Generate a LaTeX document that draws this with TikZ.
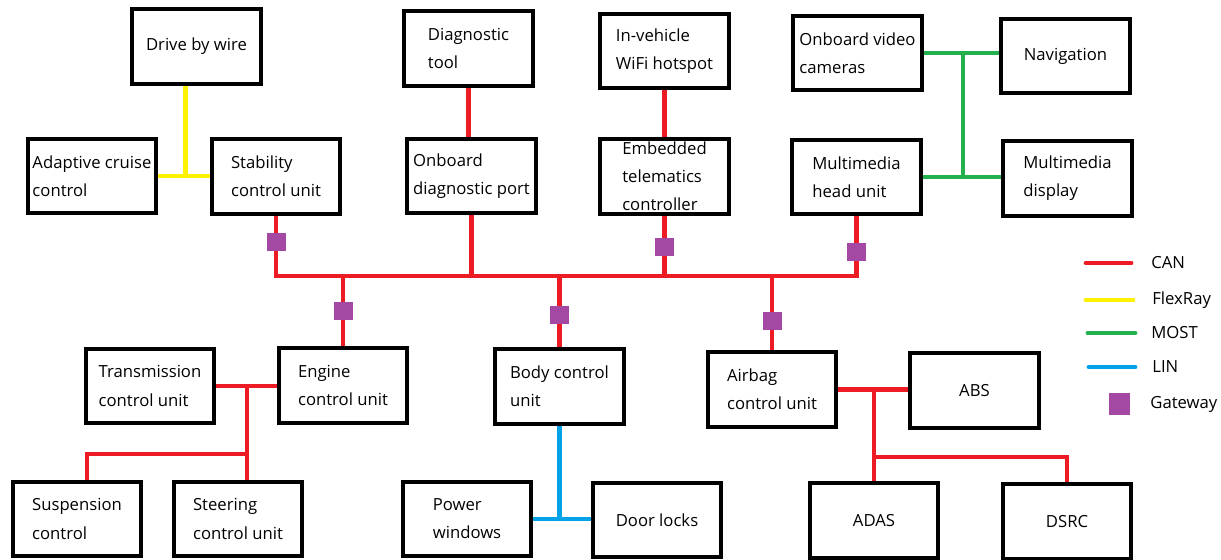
\documentclass[tikz,border=0pt]{standalone}
\usepackage{fontspec}
\setmainfont{Open Sans}
\usepackage{tikz}
\usetikzlibrary{calc}
\definecolor{canred}{RGB}{237,28,36}
\definecolor{flexyellow}{RGB}{255,242,0}
\definecolor{mostgreen}{RGB}{34,177,76}
\definecolor{linblue}{RGB}{0,162,232}
\definecolor{gwpurple}{RGB}{163,73,164}

\begin{document}
\begin{tikzpicture}[x=0.02cm, y=-0.02cm,
    unit/.style={rectangle, draw=black, line width=2.5pt, fill=white,
                 minimum width=2.57cm, minimum height=1.49cm, align=left,
                 font=\fontsize{9.5}{16}\selectfont, inner xsep=2pt, inner ysep=0pt},
    gateway/.style={rectangle, fill=gwpurple, minimum width=0.38cm, minimum height=0.36cm, inner sep=0pt},
    can/.style={canred, line width=2.8pt},
    flexray/.style={flexyellow, line width=2.8pt},
    most/.style={mostgreen, line width=2.8pt},
    lin/.style={linblue, line width=2.8pt},
    legendtext/.style={font=\fontsize{9.5}{12}\selectfont, anchor=west, inner sep=0pt}
]
    \useasboundingbox (0,0) rectangle (1221,560);

    % top row
    \node[unit] (dbw)   at (196.5,46.5) {Drive by wire};
    \node[unit] (diag)  at (468.5,48.5) {Diagnostic\\tool};
    \node[unit] (wifi)  at (664.5,51)   {In-vehicle\\WiFi hotspot};
    \node[unit] (video) at (857.5,53)   {Onboard video\\cameras};
    \node[unit] (nav)   at (1065.5,56)  {Navigation};

    % second row
    \node[unit] (acc)   at (92,176)      {Adaptive cruise\\control};
    \node[unit] (stab)  at (276,176.5)   {Stability\\control unit};
    \node[unit] (obd)   at (471.5,176)   {Onboard\\diagnostic port};
    \node[unit] (telem) at (664.5,176.5) {Embedded\\telematics\\controller};
    \node[unit] (head)  at (856.5,177)   {Multimedia\\head unit};
    \node[unit] (disp)  at (1067.5,178.5) {Multimedia\\display};

    % third row
    \node[unit] (tcu)    at (150,386)     {Transmission\\control unit};
    \node[unit] (engine) at (343,385.5)   {Engine\\control unit};
    \node[unit] (body)   at (559.5,386.5) {Body control\\unit};
    \node[unit] (airbag) at (772,389.5)   {Airbag\\control unit};
    \node[unit] (abs)    at (974.5,390.5) {ABS};

    % bottom row
    \node[unit] (susp)  at (77,519)     {Suspension\\control};
    \node[unit] (steer) at (238,519)    {Steering\\control unit};
    \node[unit] (pwin)  at (467,519)    {Power\\windows};
    \node[unit] (locks) at (657,520)    {Door locks};
    \node[unit] (adas)  at (874,520.5)  {ADAS};
    \node[unit] (dsrc)  at (1067,521.5) {DSRC};

    % CAN backbone
    \coordinate (bus) at (0,276);
    \draw[can] (stab.south) -- (stab.south |- bus) -| (head.south);
    \draw[can] (obd.south) -- (obd.south |- bus);
    \draw[can] (telem.south) -- (telem.south |- bus);
    \draw[can] (engine.north) -- (engine.north |- bus);
    \draw[can] (body.north) -- (body.north |- bus);
    \draw[can] (airbag.north) -- (airbag.north |- bus);
    \draw[can] (diag.south) -- (diag.south |- obd.north);
    \draw[can] (wifi.south) -- (telem.north);

    % powertrain CAN
    \coordinate (ptrow) at (0,454);
    \draw[can] (tcu.east) -- (tcu.east -| engine.west);
    \draw[can] ([xshift=0.18cm]steer.north) -- ([xshift=0.18cm]steer.north |- tcu.east);
    \draw[can] ([xshift=0.18cm]steer.north |- ptrow) -| ([xshift=0.2cm]susp.north);

    % chassis CAN
    \coordinate (chrow) at (0,457);
    \draw[can] (airbag.east) -- (airbag.east -| abs.west);
    \draw[can] (adas.north) -- (adas.north |- airbag.east);
    \draw[can] (adas.north |- chrow) -| (dsrc.north);

    % FlexRay
    \draw[flexray] (acc.east) -- (acc.east -| stab.west);
    \draw[flexray] ([xshift=-0.22cm]dbw.south) -- ([xshift=-0.22cm]dbw.south |- acc.east);

    % MOST
    \coordinate (mostx) at (963,0);
    \draw[most] (video.east) -- (video.east -| nav.west);
    \draw[most] (head.east) -- (head.east -| disp.west);
    \draw[most] (mostx |- video.east) -- (mostx |- head.east);

    % LIN
    \draw[lin] (pwin.east) -- (pwin.east -| locks.west);
    \draw[lin] (body.south) -- (body.south |- pwin.east);

    % gateways
    \node[gateway] (gwstab)   at ([yshift=-0.52cm]stab.south) {};
    \node[gateway] (gwtelem)  at ([yshift=-0.62cm]telem.south) {};
    \node[gateway] (gwhead)   at ([yshift=-0.71cm]head.south) {};
    \node[gateway] (gwengine) at ([yshift=0.7cm]engine.north) {};
    \node[gateway] (gwbody)   at ([yshift=0.64cm]body.north) {};
    \node[gateway] (gwairbag) at ([yshift=0.58cm]airbag.north) {};

    % legend
    \draw[can, line cap=round] (1086,263) -- (1131,263);
    \node[legendtext] (lcan) at (1151,263) {CAN};
    \draw[flexray, line cap=round] (1086,300) -- (1133,300);
    \node[legendtext] (lflex) at (1152,300) {FlexRay};
    \draw[most, line cap=round] (1088,333) -- (1135,333);
    \node[legendtext] (lmost) at (1151,333) {MOST};
    \draw[lin, line cap=round] (1089,367) -- (1135,367);
    \node[legendtext] (llin) at (1152,367) {LIN};
    \node[gateway, minimum width=0.42cm, minimum height=0.44cm] (lgw) at (1119,404) {};
    \node[legendtext] (lgwtext) at (1150,404) {Gateway};
\end{tikzpicture}
\end{document}
